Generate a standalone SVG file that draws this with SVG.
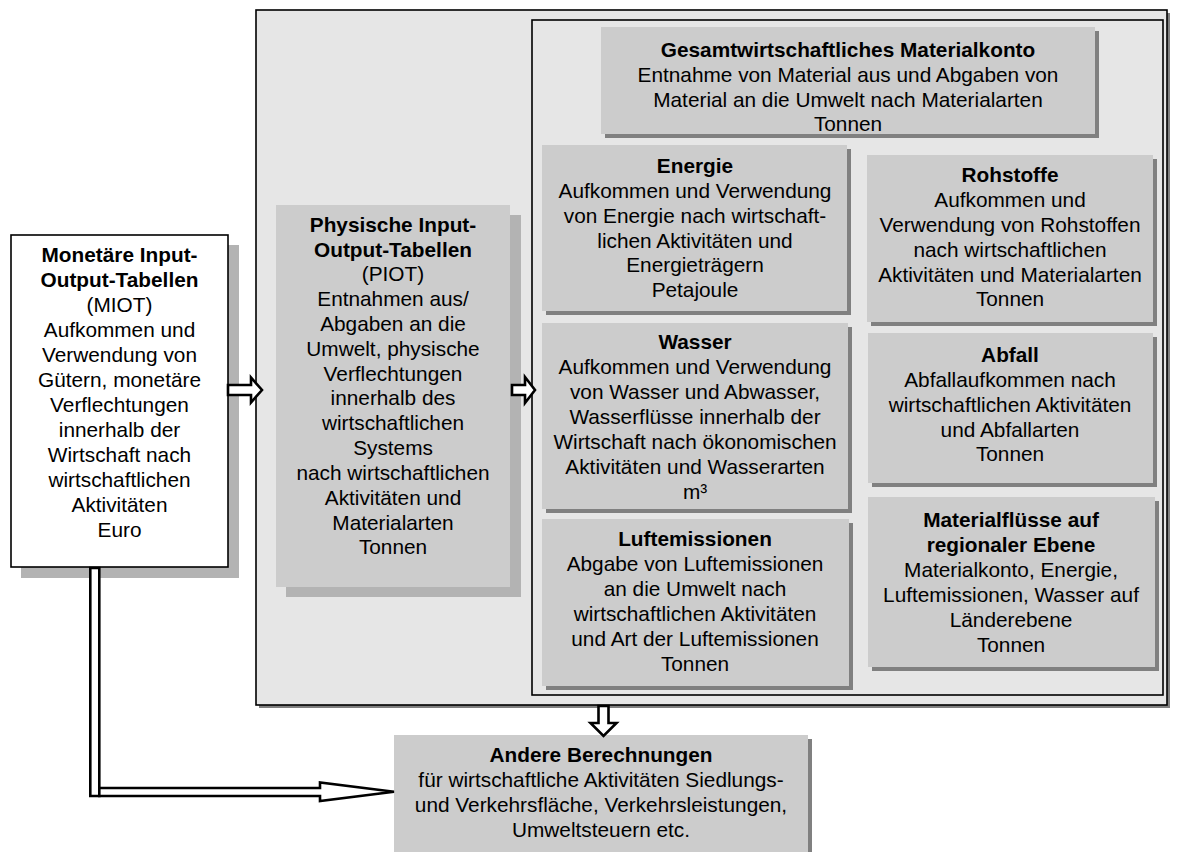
<svg xmlns="http://www.w3.org/2000/svg" width="1179" height="852" viewBox="0 0 1179 852">
<style>
text{font-family:"Liberation Sans",Arial,sans-serif;font-size:20.8px;fill:#000;text-anchor:middle}
.b{font-weight:bold}
.box{fill:#cccccc}
.sh{fill:#808080}
.sh2{fill:#b3b3b3}
.frame{stroke:#000;stroke-width:1.6}
.arr{fill:#fff;stroke:#000;stroke-width:2.6;stroke-linejoin:miter}
</style>
<rect width="1179" height="852" fill="#fff"/>
<g id="outer">
<rect x="259" y="13" width="911" height="695" fill="#808080"/>
<rect x="256" y="10" width="911" height="695" fill="#e6e6e6" class="frame"/>
</g>
<g id="inner">
<rect x="532" y="20" width="631" height="675" fill="#e6e6e6" class="frame"/>
</g>
<g id="miot">
<rect x="21" y="245" width="218" height="333" class="sh2"/>
<rect x="11" y="235" width="217" height="332" fill="#fff" class="frame"/>
<text x="119.5" y="262" class="b">Monetäre Input-</text>
<text x="119.5" y="287" class="b">Output-Tabellen</text>
<text x="119.5" y="312">(MIOT)</text>
<text x="119.5" y="337">Aufkommen und</text>
<text x="119.5" y="362">Verwendung von</text>
<text x="119.5" y="387">Gütern, monetäre</text>
<text x="119.5" y="412">Verflechtungen</text>
<text x="119.5" y="437">innerhalb der</text>
<text x="119.5" y="462">Wirtschaft nach</text>
<text x="119.5" y="487">wirtschaftlichen</text>
<text x="119.5" y="512">Aktivitäten</text>
<text x="119.5" y="537">Euro</text>
</g>
<g id="piot">
<rect x="286" y="215" width="235" height="382" class="sh2"/>
<rect x="276" y="205" width="234" height="382" class="box"/>
<text x="393" y="232" class="b">Physische Input-</text>
<text x="393" y="257" class="b">Output-Tabellen</text>
<text x="393" y="281">(PIOT)</text>
<text x="393" y="306">Entnahmen aus/</text>
<text x="393" y="331">Abgaben an die</text>
<text x="393" y="356">Umwelt, physische</text>
<text x="393" y="381">Verflechtungen</text>
<text x="393" y="405">innerhalb des</text>
<text x="393" y="430">wirtschaftlichen</text>
<text x="393" y="455">Systems</text>
<text x="393" y="480">nach wirtschaftlichen</text>
<text x="393" y="505">Aktivitäten und</text>
<text x="393" y="530">Materialarten</text>
<text x="393" y="554">Tonnen</text>
</g>
<g id="gesamt">
<rect x="605" y="31" width="494" height="107" class="sh"/>
<rect x="601" y="27" width="494" height="107" class="box"/>
<text x="848" y="57" class="b">Gesamtwirtschaftliches Materialkonto</text>
<text x="848" y="82">Entnahme von Material aus und Abgaben von</text>
<text x="848" y="107">Material an die Umwelt nach Materialarten</text>
<text x="848" y="131">Tonnen</text>
</g>
<g id="energie">
<rect x="546" y="149" width="305" height="166" class="sh"/>
<rect x="542" y="145" width="305" height="166" class="box"/>
<text x="695" y="173" class="b">Energie</text>
<text x="695" y="198">Aufkommen und Verwendung</text>
<text x="695" y="223">von Energie nach wirtschaft-</text>
<text x="695" y="248">lichen Aktivitäten und</text>
<text x="695" y="272">Energieträgern</text>
<text x="695" y="297">Petajoule</text>
</g>
<g id="rohstoffe">
<rect x="871" y="159" width="286" height="167" class="sh"/>
<rect x="867" y="155" width="286" height="167" class="box"/>
<text x="1010" y="182" class="b">Rohstoffe</text>
<text x="1010" y="207">Aufkommen und</text>
<text x="1010" y="232">Verwendung von Rohstoffen</text>
<text x="1010" y="257">nach wirtschaftlichen</text>
<text x="1010" y="282">Aktivitäten und Materialarten</text>
<text x="1010" y="306">Tonnen</text>
</g>
<g id="wasser">
<rect x="546" y="327" width="306" height="186" class="sh"/>
<rect x="542" y="323" width="306" height="186" class="box"/>
<text x="695" y="349" class="b">Wasser</text>
<text x="695" y="374">Aufkommen und Verwendung</text>
<text x="695" y="399">von Wasser und Abwasser,</text>
<text x="695" y="424">Wasserflüsse innerhalb der</text>
<text x="695" y="449">Wirtschaft nach ökonomischen</text>
<text x="695" y="474">Aktivitäten und Wasserarten</text>
<text x="695" y="499">m³</text>
</g>
<g id="abfall">
<rect x="872" y="337" width="285" height="150" class="sh"/>
<rect x="868" y="333" width="285" height="150" class="box"/>
<text x="1010" y="362" class="b">Abfall</text>
<text x="1010" y="387">Abfallaufkommen nach</text>
<text x="1010" y="412">wirtschaftlichen Aktivitäten</text>
<text x="1010" y="437">und Abfallarten</text>
<text x="1010" y="461">Tonnen</text>
</g>
<g id="luft">
<rect x="546" y="523" width="307" height="167" class="sh"/>
<rect x="542" y="519" width="307" height="167" class="box"/>
<text x="695" y="546" class="b">Luftemissionen</text>
<text x="695" y="571">Abgabe von Luftemissionen</text>
<text x="695" y="596">an die Umwelt nach</text>
<text x="695" y="621">wirtschaftlichen Aktivitäten</text>
<text x="695" y="646">und Art der Luftemissionen</text>
<text x="695" y="671">Tonnen</text>
</g>
<g id="regional">
<rect x="872" y="501" width="287" height="170" class="sh"/>
<rect x="868" y="497" width="287" height="170" class="box"/>
<text x="1011" y="527" class="b">Materialflüsse auf</text>
<text x="1011" y="552" class="b">regionaler Ebene</text>
<text x="1011" y="577">Materialkonto, Energie,</text>
<text x="1011" y="602">Luftemissionen, Wasser auf</text>
<text x="1011" y="627">Länderebene</text>
<text x="1011" y="652">Tonnen</text>
</g>
<g id="andere">
<rect x="398" y="739" width="414" height="120" class="sh"/>
<rect x="394" y="735" width="414" height="117" class="box"/>
<text x="601" y="762" class="b">Andere Berechnungen</text>
<text x="601" y="787">für wirtschaftliche Aktivitäten Siedlungs-</text>
<text x="601" y="812">und Verkehrsfläche, Verkehrsleistungen,</text>
<text x="601" y="837">Umweltsteuern etc.</text>
</g>
<g id="connectors">
<path class="arr" d="M228,385 L251,385 L251,377.5 L262,390 L251,402.5 L251,395 L228,395 Z"/>
<path class="arr" d="M512,385 L525,385 L525,377 L535,390 L525,403 L525,395 L512,395 Z"/>
<path class="arr" d="M598.5,706 L608.5,706 L608.5,723 L616.5,723 L603.5,736 L590.5,723 L598.5,723 Z"/>
<path class="arr" stroke-width="3" d="M90.3,568 L99.3,568 L99.3,796 L90.3,796 Z"/>
<path class="arr" stroke-width="3" d="M99.3,788 L320,788 L320,782.5 L394,791.7 L320,801 L320,796 L99.3,796 Z"/>
</g>
</svg>
